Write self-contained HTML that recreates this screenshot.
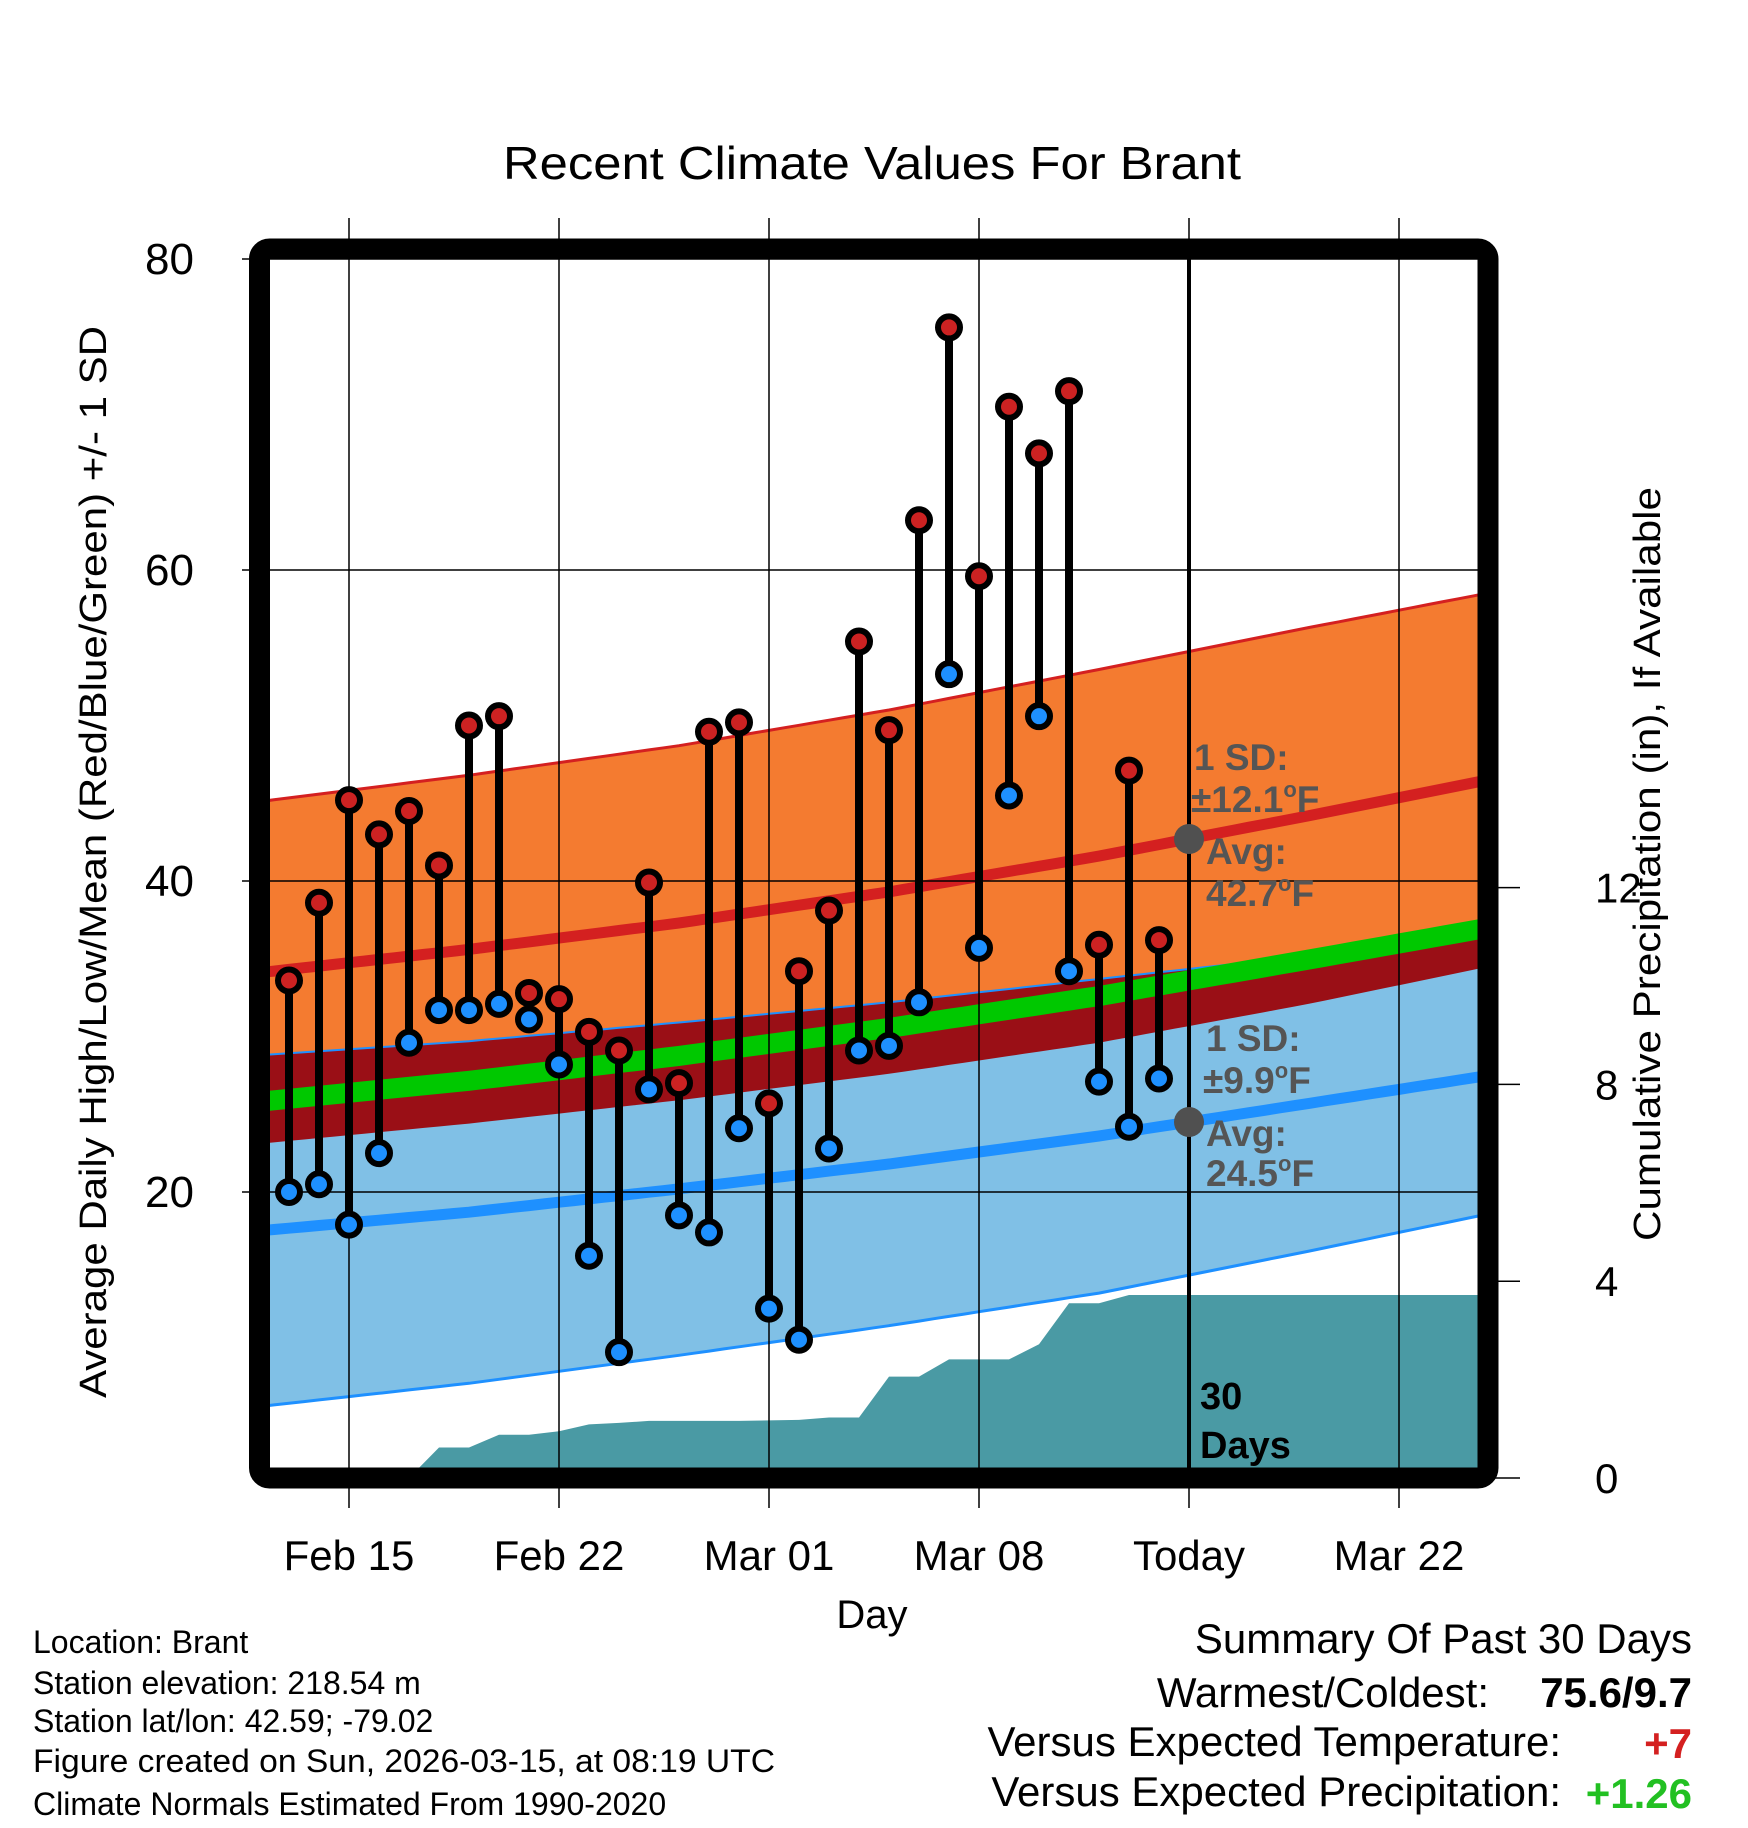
<!DOCTYPE html>
<html><head><meta charset="utf-8"><style>
html,body{margin:0;padding:0;background:#fff;}
svg{display:block;font-family:"Liberation Sans",Arial,sans-serif;}
</style></head><body>
<svg id="chart" width="1748" height="1828" viewBox="0 0 1748 1828" xmlns="http://www.w3.org/2000/svg">
<defs><clipPath id="plotclip"><rect x="270" y="259" width="1208" height="1209"/></clipPath></defs>
<text x="872" y="179" font-size="46" text-anchor="middle" textLength="738" lengthAdjust="spacingAndGlyphs">Recent Climate Values For Brant</text>
<g id="plot" clip-path="url(#plotclip)"></g>
<g id="over"></g>
<text transform="translate(106,862) rotate(-90)" font-size="38" text-anchor="middle" textLength="1072" lengthAdjust="spacingAndGlyphs">Average Daily High/Low/Mean (Red/Blue/Green) +/- 1 SD</text>
<text transform="translate(1660,864) rotate(-90)" font-size="38" text-anchor="middle" textLength="754" lengthAdjust="spacingAndGlyphs">Cumulative Precipitation (in), If Available</text>
<text x="872" y="1628" font-size="40" text-anchor="middle">Day</text>
<g font-size="32">
<text x="33" y="1653">Location: Brant</text>
<text x="33" y="1694">Station elevation: 218.54 m</text>
<text x="33" y="1732">Station lat/lon: 42.59; -79.02</text>
<text x="33" y="1772" textLength="742" lengthAdjust="spacingAndGlyphs">Figure created on Sun, 2026-03-15, at 08:19 UTC</text>
<text x="33" y="1815">Climate Normals Estimated From 1990-2020</text>
</g>
<g font-size="42" text-anchor="end">
<text x="1692" y="1653">Summary Of Past 30 Days</text>
<text x="1489" y="1707">Warmest/Coldest:</text>
<text x="1692" y="1707" font-weight="bold">75.6/9.7</text>
<text x="1561" y="1756">Versus Expected Temperature:</text>
<text x="1692" y="1758" font-weight="bold" fill="#d42020">+7</text>
<text x="1561" y="1806">Versus Expected Precipitation:</text>
<text x="1692" y="1808" font-weight="bold" fill="#22c022">+1.26</text>
</g>
</svg>
<script>
// ---- data ----
const dayIdx = [-2,-1,0,1,2,3,4,5,6,7,8,9,10,11,12,13,14,15,16,17,18,19,20,21,22,23,24,25,26,27];
const highs = [33.6,38.6,45.2,43.0,44.5,41.0,50.0,50.6,32.8,32.4,30.3,29.1,39.9,27.0,49.6,50.2,25.7,34.2,38.1,55.4,49.7,63.2,75.6,59.6,70.5,67.5,71.5,35.9,47.1,36.2];
const lows = [20.0,20.5,17.9,22.5,29.6,31.7,31.7,32.1,31.1,28.2,15.9,9.7,26.6,18.5,17.4,24.1,12.5,10.5,22.8,29.1,29.4,32.2,53.3,35.7,45.5,50.6,34.2,27.1,24.2,27.3];
const precip = [0,0,0,0,0,0.62,0.62,0.88,0.88,0.95,1.09,1.12,1.16,1.16,1.16,1.16,1.17,1.18,1.23,1.23,2.06,2.06,2.41,2.41,2.41,2.72,3.55,3.55,3.72,3.72];
const normDays = [-3,4,11,18,25,32,39];
const avgHigh = [34.1,35.6,37.3,39.3,41.6,44.2,46.9];
const sdHigh = [11.0,11.2,11.4,11.7,12.0,12.1,12.0];
const avgLow = [17.5,18.7,20.2,21.8,23.6,25.7,27.8];
const sdLow = [11.3,11.0,10.7,10.4,10.1,9.5,8.8];
const xTickDays = [0,7,14,21,28,35];
const xTickLabels = ["Feb 15","Feb 22","Mar 01","Mar 08","Today","Mar 22"];
const yTicks = [20,40,60,80];
const yMinor = [10,30,50,70];
const pTicks = [0,4,8,12];
const todayDay = 28, todayHigh = 42.7, todayLow = 24.5;

// ---- scales ----
const X = d => 349 + 30*d;
const Y = t => 259 + (80 - t)*15.55;
const P = p => 1478 - p*49.2;
const NS = "http://www.w3.org/2000/svg";
function mk(tag, attrs, parent){const e=document.createElementNS(NS,tag);for(const k in attrs)e.setAttribute(k,attrs[k]);parent.appendChild(e);return e;}
const svg = document.getElementById('chart');
const plot = document.getElementById('plot');
const over = document.getElementById('over');
const interp = (arr,d)=>{for(let i=0;i<normDays.length-1;i++){if(d<=normDays[i+1]||i==normDays.length-2){const t=(d-normDays[i])/(normDays[i+1]-normDays[i]);return arr[i]+(arr[i+1]-arr[i])*t;}}};
const ds=[];for(let d=-3;d<=39;d+=0.5)ds.push(d);
const curve = f => ds.map(d=>[X(d),Y(f(d))]);
const pts = a => a.map(p=>p[0].toFixed(1)+','+p[1].toFixed(1)).join(' ');
const hi = d=>interp(avgHigh,d), hs=d=>interp(sdHigh,d), lo=d=>interp(avgLow,d), ls=d=>interp(sdLow,d);

// bands
const orange = mk('polygon',{points:pts(curve(d=>hi(d)+hs(d)).concat(curve(d=>hi(d)-hs(d)).reverse())),fill:'#f47b30'},plot);


const blue = mk('polygon',{points:pts(curve(d=>lo(d)+ls(d)).concat(curve(d=>lo(d)-ls(d)).reverse())),fill:'#80c0e6'},plot);


const overlap = mk('polygon',{points:pts(curve(d=>Math.min(lo(d)+ls(d),hi(d)+hs(d))).concat(curve(d=>Math.max(hi(d)-hs(d),lo(d)-ls(d))).reverse())),fill:'#9a0f16'},plot);


const e1 = mk('polyline',{points:pts(curve(d=>hi(d)+hs(d))),fill:'none',stroke:'#d42020','stroke-width':3},plot);


const e2 = mk('polyline',{points:pts(curve(d=>lo(d)+ls(d))),fill:'none',stroke:'#1e90ff','stroke-width':2},plot);


const e3 = mk('polyline',{points:pts(curve(d=>lo(d)-ls(d))),fill:'none',stroke:'#1e90ff','stroke-width':3},plot);


const mline = mk('polyline',{points:pts(curve(d=>(hi(d)+lo(d))/2)),fill:'none',stroke:'#00c800','stroke-width':20},plot);


const hline = mk('polyline',{points:pts(curve(hi)),fill:'none',stroke:'#d42020','stroke-width':11},plot);


const lline = mk('polyline',{points:pts(curve(lo)),fill:'none',stroke:'#1e90ff','stroke-width':11},plot);



// precip area
const pp=[[X(dayIdx[0]),P(0)]];
dayIdx.forEach((d,i)=>pp.push([X(d),P(precip[i])]));
pp.push([X(40),P(precip[precip.length-1])]);pp.push([X(40),P(0)]);
const parea = mk('polygon',{points:pts(pp),fill:'#4a9aa4'},plot);



// gridlines
xTickDays.forEach((d,i)=>{
  const g = mk('line',{x1:X(d),x2:X(d),y1:218,y2:1508,stroke:'#000','stroke-width':1.5},svg.insertBefore(document.createElementNS(NS,'g'),over));
  
  
  const t = mk('text',{x:X(d),y:1570,'font-size':42,'text-anchor':'middle'},svg);
  t.textContent = xTickLabels[i];
  
  
});
yTicks.forEach(v=>{
  const g = mk('line',{x1:242,x2:1478,y1:Y(v),y2:Y(v),stroke:'#000','stroke-width':1.5},plot);
  
  
  const tk = mk('line',{x1:242,x2:270,y1:Y(v),y2:Y(v),stroke:'#000','stroke-width':1.5},svg);
  
  
  const t = mk('text',{x:194,y:Y(v)+15,'font-size':44,'text-anchor':'end'},svg);
  t.textContent = v;
  
  
});
yMinor.forEach(v=>{
  const tk = mk('line',{x1:256,x2:270,y1:Y(v),y2:Y(v),stroke:'#000','stroke-width':1.5},svg);
  
  
});
pTicks.forEach(v=>{
  const tk = mk('line',{x1:1488,x2:1520,y1:P(v),y2:P(v),stroke:'#000','stroke-width':1.5},svg);
  
  
  const t = mk('text',{x:1595,y:P(v)+15,'font-size':42},svg);
  t.textContent = v;
  
  
});

// today line
const tl = mk('line',{x1:X(todayDay),x2:X(todayDay),y1:259,y2:1468,stroke:'#000','stroke-width':4},over);


const gd1 = mk('circle',{cx:X(todayDay),cy:Y(todayHigh),r:15,fill:'#505050'},over);


const gd2 = mk('circle',{cx:X(todayDay),cy:Y(todayLow),r:15,fill:'#505050'},over);



// stems and dots
dayIdx.forEach((d,i)=>{
  const s = mk('line',{x1:X(d),x2:X(d),y1:Y(highs[i]),y2:Y(lows[i]),stroke:'#000','stroke-width':8},over);
  
  
});
dayIdx.forEach((d,i)=>{
  const h = mk('circle',{cx:X(d),cy:Y(highs[i]),r:11,fill:'#cc2222',stroke:'#000','stroke-width':6},over);
  
  
  const l = mk('circle',{cx:X(d),cy:Y(lows[i]),r:11,fill:'#1e90ff',stroke:'#000','stroke-width':6},over);
  
  
});

// annotations
function label(x,y,txt,deg,name){
  const t = mk('text',{x:x,y:y,'font-size':37,'font-weight':'bold',fill:'#555'},over);
  
  
  t.appendChild(document.createTextNode(txt));
  if(deg){const o=mk('tspan',{'font-size':22,dy:-15},t);o.textContent='o';const f=mk('tspan',{dy:15},t);f.textContent='F';}
}
label(1194,770,'1 SD:',false,'high-sd-label');
label(1191,812,'±12.1',true,'high-sd-value');
label(1206,864,'Avg:',false,'high-avg-label');
label(1206,906,'42.7',true,'high-avg-value');
label(1206,1051,'1 SD:',false,'low-sd-label');
label(1203,1093,'±9.9',true,'low-sd-value');
label(1206,1146,'Avg:',false,'low-avg-label');
label(1206,1186,'24.5',true,'low-avg-value');
const dl1 = mk('text',{x:1200,y:1409,'font-size':38,'font-weight':'bold'},over);
dl1.textContent='30';


const dl2 = mk('text',{x:1200,y:1458,'font-size':38,'font-weight':'bold'},over);
dl2.textContent='Days';



// frame
const fr = mk('rect',{x:259.5,y:249,width:1228.5,height:1229,fill:'none',stroke:'#000','stroke-width':21,rx:10},svg);


</script>
</body></html>
